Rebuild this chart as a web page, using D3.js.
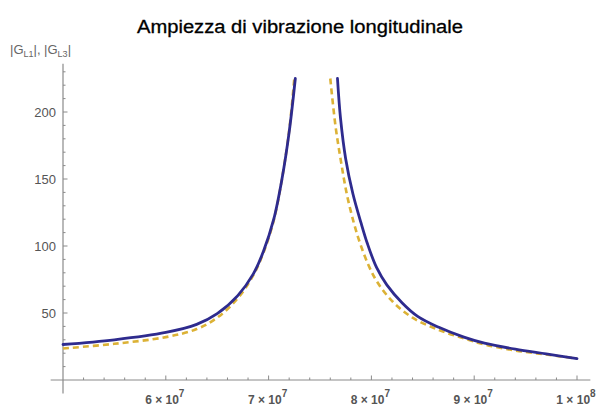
<!DOCTYPE html>
<html>
<head>
<meta charset="utf-8">
<script src="https://cdn.jsdelivr.net/npm/d3@7"></script>
<style>
  body { margin: 0; background: #fff; }
  svg { display: block; font-family: "Liberation Sans", Arial, sans-serif; }
</style>
</head>
<body>
<div id="graph-container"></div>
<script>
// frequencies (Hz) and amplitudes
var freqBlueLeft = [5.0e7, 5.5e7, 6.0e7, 6.3e7, 6.5e7, 6.7e7, 6.85e7, 6.95e7, 7.05e7, 7.13e7, 7.2e7, 7.26e7];
var ampBlueLeft  = [26.5, 30, 35.5, 41.5, 49.5, 63, 79, 96, 120, 150, 185, 225];
var freqBlueRight = [7.67e7, 7.7e7, 7.75e7, 7.82e7, 7.9e7, 7.96e7, 8.05e7, 8.15e7, 8.3e7, 8.45e7, 8.65e7, 8.9e7, 9.1e7, 9.4e7, 9.7e7, 1.0e8];
var ampBlueRight  = [225, 195, 165, 139, 117, 102, 84, 71, 57.5, 47.5, 39.5, 32, 27.5, 23, 19.5, 16];

var freqYellowLeft = [5.0e7, 5.5e7, 6.0e7, 6.3e7, 6.5e7, 6.7e7, 6.85e7, 6.95e7, 7.05e7, 7.13e7, 7.2e7, 7.25e7];
var ampYellowLeft  = [23.5, 27, 32, 38, 46.5, 61, 78, 95, 119, 150, 186, 225];
var freqYellowRight = [7.6e7, 7.65e7, 7.7e7, 7.76e7, 7.83e7, 7.89e7, 7.97e7, 8.05e7, 8.2e7, 8.4e7, 8.65e7, 8.9e7, 9.1e7, 9.4e7, 9.7e7, 1.0e8];
var ampYellowRight  = [225, 190, 165, 139, 117, 102, 86, 74, 59, 46.5, 37.5, 31, 26.5, 22, 19, 16];

var xTickValues = [6e7, 7e7, 8e7, 9e7, 1e8];
var xTickMant = ["6", "7", "8", "9", "1"];
var xTickExp = ["7", "7", "7", "7", "8"];
var yTickValues = [50, 100, 150, 200];

var title = "Ampiezza di vibrazione longitudinale";

var width = 606, height = 408;

var svg = d3.select("#graph-container").append("svg")
  .attr("width", width)
  .attr("height", height);

// scales
var x = d3.scaleLinear().domain([5e7, 1e8]).range([63, 577]);
var y = d3.scaleLinear().domain([0, 50]).range([380, 313]);

var axisColor = "#8a8a8a";

// x axis line + ticks (pointing up, Mathematica style)
svg.append("line")
  .attr("x1", x(4.88e7)).attr("x2", x(1.013e8))
  .attr("y1", y(0)).attr("y2", y(0))
  .attr("stroke", axisColor).attr("stroke-width", 1);

var xMinor = d3.range(5.2e7, 1.001e8, 2e6);
svg.append("g").selectAll("line")
  .data(xMinor)
  .enter().append("line")
  .attr("x1", function(d) { return x(d); })
  .attr("x2", function(d) { return x(d); })
  .attr("y1", y(0))
  .attr("y2", function(d) { return y(0) - (Math.abs(d / 1e7 - Math.round(d / 1e7)) < 1e-6 ? 4.5 : 2.5); })
  .attr("stroke", axisColor).attr("stroke-width", 1);

// y axis line + ticks (pointing right)
svg.append("line")
  .attr("x1", x(5e7)).attr("x2", x(5e7))
  .attr("y1", y(236)).attr("y2", y(-10))
  .attr("stroke", axisColor).attr("stroke-width", 1.2);

var yMinor = d3.range(10, 231, 10);
svg.append("g").selectAll("line")
  .data(yMinor)
  .enter().append("line")
  .attr("x1", x(5e7))
  .attr("x2", function(d) { return x(5e7) + (d % 50 === 0 ? 4.5 : 2.5); })
  .attr("y1", function(d) { return y(d); })
  .attr("y2", function(d) { return y(d); })
  .attr("stroke", axisColor).attr("stroke-width", 1);

// y tick labels
svg.append("g").selectAll("text")
  .data(yTickValues)
  .enter().append("text")
  .attr("x", x(5e7) - 7)
  .attr("y", function(d) { return y(d) + 5; })
  .attr("text-anchor", "end")
  .attr("font-size", 13)
  .attr("fill", "#555")
  .text(function(d) { return d; });

// x tick labels: "6 × 10^7"
var xl = svg.append("g").selectAll("text")
  .data(xTickValues)
  .enter().append("text")
  .attr("x", function(d) { return x(d) - 1; })
  .attr("y", 404)
  .attr("text-anchor", "middle")
  .attr("font-size", 12)
  .attr("font-weight", "bold")
  .attr("fill", "#555");
xl.append("tspan").text(function(d, i) { return xTickMant[i] + " \u00d7 10"; });
xl.append("tspan")
  .attr("dy", -7)
  .attr("font-size", 10)
  .text(function(d, i) { return xTickExp[i]; });

// title
svg.append("text")
  .attr("x", 300)
  .attr("y", 33)
  .attr("text-anchor", "middle")
  .attr("font-size", 18)
  .attr("textLength", 326)
  .attr("lengthAdjust", "spacingAndGlyphs")
  .attr("fill", "#000")
  .attr("stroke", "#000")
  .attr("stroke-width", 0.3)
  .text(title);

// y axis label |G_L1|, |G_L3|
var yl = svg.append("text")
  .attr("x", 10)
  .attr("y", 54)
  .attr("font-size", 13)
  .attr("fill", "#666");
yl.append("tspan").text("|G");
yl.append("tspan").attr("font-size", 9).attr("dy", 3).text("L1");
yl.append("tspan").attr("dy", -3).text("|, |G");
yl.append("tspan").attr("font-size", 9).attr("dy", 3).text("L3");
yl.append("tspan").attr("dy", -3).text("|");

// curves
var line = d3.line()
  .x(function(d) { return x(d[0]); })
  .y(function(d) { return y(d[1]); })
  .curve(d3.curveCatmullRom.alpha(0.5));

function pairs(fs, as) { return fs.map(function(f, i) { return [f, as[i]]; }); }

var yellow = "#dcb236", blue = "#2e2b8e";

[pairs(freqYellowLeft, ampYellowLeft), pairs(freqYellowRight, ampYellowRight)].forEach(function(data) {
  svg.append("path")
    .datum(data)
    .attr("d", line)
    .attr("fill", "none")
    .attr("stroke", yellow)
    .attr("stroke-width", 2.6)
    .attr("stroke-dasharray", "6,4");
});

[pairs(freqBlueLeft, ampBlueLeft), pairs(freqBlueRight, ampBlueRight)].forEach(function(data) {
  svg.append("path")
    .datum(data)
    .attr("d", line)
    .attr("fill", "none")
    .attr("stroke", blue)
    .attr("stroke-width", 2.8)
    .attr("stroke-linecap", "round");
});
</script>
</body>
</html>
